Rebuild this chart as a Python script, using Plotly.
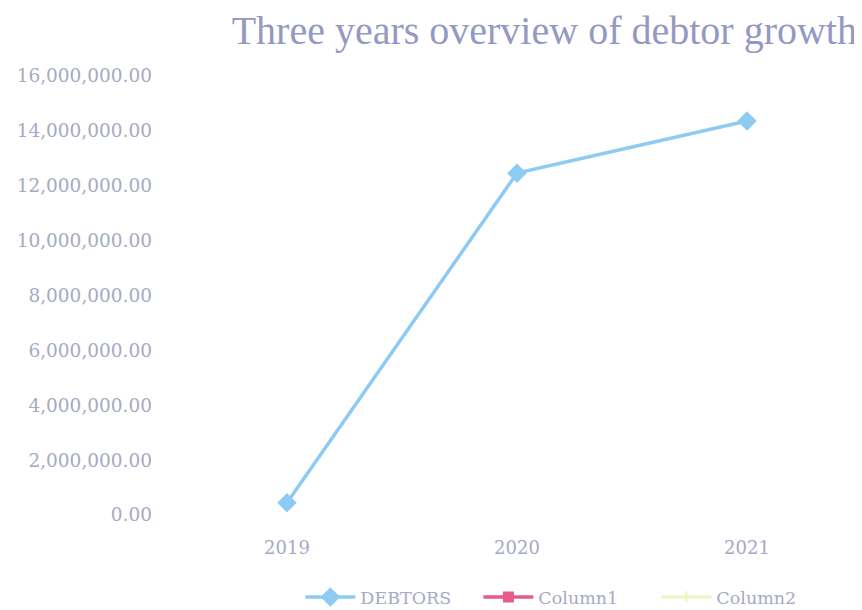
import plotly.graph_objects as go

years = ["2019", "2020", "2021"]
debtors = [450000, 12460000, 14360000]
column1 = [None, None, None]
column2 = [None, None, None]
y_ticks = [0, 2000000, 4000000, 6000000, 8000000, 10000000, 12000000, 14000000, 16000000]

tick_font = "DejaVu Serif, serif"
title_font = "Liberation Serif, DejaVu Serif, serif"
grey = "#a6aac4"

fig = go.Figure()
fig.add_trace(go.Scatter(x=years, y=debtors, name="DEBTORS", mode="lines+markers",
                         line=dict(color="#8ecbf3", width=3.5),
                         marker=dict(symbol="diamond", size=15, color="#8ecbf3")))
fig.add_trace(go.Scatter(x=years, y=column1, name="Column1", mode="lines+markers",
                         line=dict(color="#e65a8c", width=3.5),
                         marker=dict(symbol="square", size=11, color="#e65a8c")))
fig.add_trace(go.Scatter(x=years, y=column2, name="Column2", mode="lines+markers",
                         line=dict(color="#eaf6bd", width=3),
                         marker=dict(symbol="cross-thin", size=8,
                                     line=dict(color="#eaf6bd", width=2), color="#eaf6bd")))

# page body has an 8px default margin; figure is sized to fit the window
fig.update_layout(
    width=854, height=602,
    margin=dict(l=164, r=0, t=68, b=95),
    paper_bgcolor="white", plot_bgcolor="white",
    title=dict(text="Three years overview of debtor growth", x=0.628, xanchor="center",
               y=(602 - 22) / 602, yanchor="middle",
               font=dict(family=title_font, size=40, color="#9498c2")),
    xaxis=dict(type="category", showgrid=False, showline=False, zeroline=False,
               ticks="", ticklabelstandoff=20,
               tickfont=dict(family=tick_font, size=18, color=grey),
               range=[-0.5, 2.5]),
    yaxis=dict(range=[0, 16000000], tickvals=y_ticks, tickformat=",.2f",
               showgrid=False, showline=False, zeroline=False, ticks="",
               ticklabelstandoff=19,
               tickfont=dict(family=tick_font, size=18.5, color=grey)),
    legend=dict(orientation="h", xref="container", yref="container",
                x=0.655, xanchor="center", y=(602 - 589) / 602, yanchor="middle",
                font=dict(family=tick_font, size=17.5, color=grey),
                itemwidth=50, entrywidth=113),
    showlegend=True,
)
fig.write_html("out.html")
